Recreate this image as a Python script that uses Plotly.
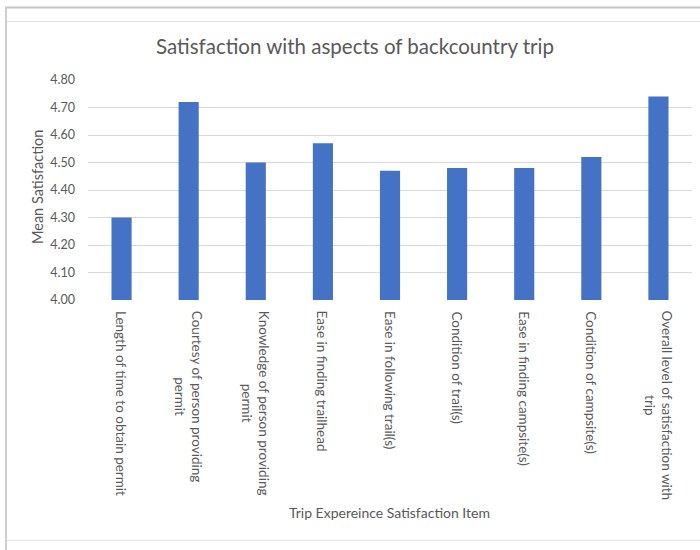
import plotly.graph_objects as go

# Survey items and their mean satisfaction scores
items = [
    "Length of time to obtain permit",
    "Courtesy of person providing<br>permit",
    "Knowledge of person providing<br>permit",
    "Ease in finding trailhead",
    "Ease in following trail(s)",
    "Condition of trail(s)",
    "Ease in finding campsite(s)",
    "Condition of campsite(s)",
    "Overall level of satisfaction with<br>trip",
]
mean_scores = [4.30, 4.72, 4.50, 4.57, 4.47, 4.48, 4.48, 4.52, 4.74]
y_ticks = [4.00, 4.10, 4.20, 4.30, 4.40, 4.50, 4.60, 4.70, 4.80]

title_text = "Satisfaction with aspects of backcountry trip"
y_title = "Mean Satisfaction"
x_title = "Trip Expereince Satisfaction Item"

W, H = 700, 550
PL, PR, PT, PB = 88, 692, 80, 300  # plot box in pixels
FONT = "Lato"
GREY = "#595959"


def px(x):
    return (x - PL) / (PR - PL)


def py(y):
    return (PB - y) / (PB - PT)


fig = go.Figure(
    go.Bar(
        x=list(range(len(items))),
        y=mean_scores,
        width=0.3,
        marker=dict(color="#4472C4", line=dict(width=0)),
    )
)

annotations = []
# Rotated category labels under each bar
for i, lab in enumerate(items):
    annotations.append(dict(
        x=i, xref="x", y=py(309), yref="paper",
        text=lab, showarrow=False, textangle=90,
        xanchor="center", yanchor="top", align="center",
        font=dict(family=FONT, size=13.5, color=GREY),
    ))
annotations.append(dict(
    x=px(389), xref="paper", y=py(512), yref="paper",
    text=x_title, showarrow=False, xanchor="center", yanchor="middle",
    font=dict(family=FONT, size=14, color=GREY),
))
annotations.append(dict(
    x=px(37), xref="paper", y=py(187), yref="paper",
    text=y_title, showarrow=False, textangle=-90,
    xanchor="center", yanchor="middle",
    font=dict(family=FONT, size=14.5, color=GREY),
))

# Outer frame lines of the chart container
shapes = [
    dict(type="line", xref="paper", yref="paper", x0=px(5), x1=px(700), y0=py(7.5), y1=py(7.5),
         line=dict(color="#c4c4c4", width=2)),
    dict(type="line", xref="paper", yref="paper", x0=px(6), x1=px(6), y0=py(7), y1=py(550),
         line=dict(color="#cfcfcf", width=2)),
    dict(type="line", xref="paper", yref="paper", x0=px(7), x1=px(700), y0=py(21.5), y1=py(21.5),
         line=dict(color="#e4e4e4", width=1)),
    dict(type="line", xref="paper", yref="paper", x0=px(7), x1=px(700), y0=py(540.5), y1=py(540.5),
         line=dict(color="#e6e6e6", width=1)),
]

fig.update_layout(
    width=W, height=H,
    margin=dict(l=PL, r=W - PR, t=PT, b=H - PB, pad=0),
    paper_bgcolor="white", plot_bgcolor="white",
    showlegend=False,
    title=dict(text=title_text, x=px(355), xref="paper", xanchor="center",
               y=1 - 47 / H, yanchor="middle",
               font=dict(family=FONT, size=20.5, color=GREY)),
    xaxis=dict(range=[-0.5, len(items) - 0.5], showticklabels=False, showgrid=False,
               zeroline=False, showline=False, ticks=""),
    yaxis=dict(range=[4.0, 4.8], tickvals=y_ticks, tickformat=".2f",
               showgrid=True, gridcolor="#d9d9d9", gridwidth=1, zeroline=False,
               showline=False, ticks="", ticklabelstandoff=12,
               tickfont=dict(family=FONT, size=12.5, color=GREY)),
    annotations=annotations,
    shapes=shapes,
    bargap=0.7,
)

fig.write_html("out.html")
